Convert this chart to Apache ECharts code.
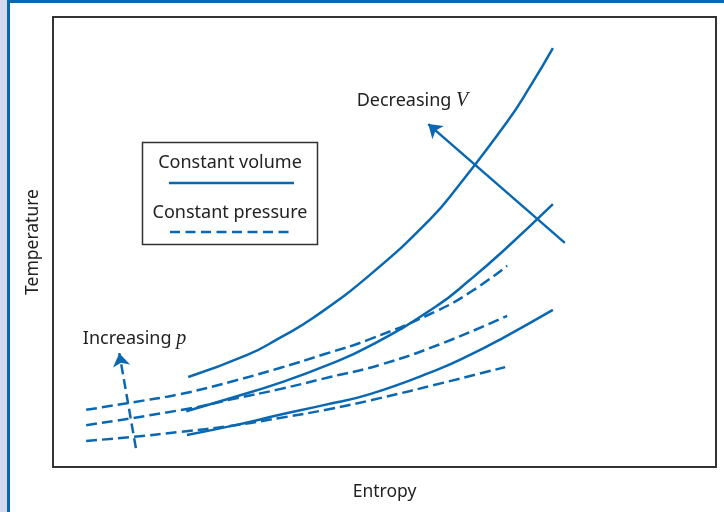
<!DOCTYPE html>
<html>
<head>
<meta charset="utf-8">
<script src="https://cdn.jsdelivr.net/npm/echarts@6/dist/echarts.min.js"></script>
<style>
html,body{margin:0;padding:0;background:#fff;}
#wrap{position:relative;width:724px;height:512px;background:#fff;}
#strip{position:absolute;left:0;top:0;width:7px;height:512px;background:#d4dbef;}
#vbar{position:absolute;left:7px;top:0;width:3px;height:512px;background:#0a68b2;}
#hbar{position:absolute;left:7px;top:0;width:717px;height:3px;background:#0a68b2;}
#chart{position:absolute;left:0;top:0;width:724px;height:512px;}
</style>
</head>
<body>
<div id="wrap">
<div id="strip"></div><div id="vbar"></div><div id="hbar"></div>
<div id="chart"></div>
</div>
<script>
// Entropy (x) / Temperature (y), arbitrary units 0..10
var volumeHigh = [[2.04,2.00],[2.93,2.49],[3.42,2.87],[3.92,3.31],[4.78,4.27],[5.69,5.51],[6.09,6.20],[6.85,7.67],[7.19,8.44],[7.54,9.31]];
var volumeMid = [[2.01,1.24],[2.75,1.56],[3.42,1.87],[4.10,2.24],[4.78,2.69],[5.79,3.58],[6.29,4.16],[6.79,4.80],[7.54,5.84]];
var volumeLow = [[2.02,0.71],[2.75,0.93],[3.42,1.16],[4.10,1.38],[4.78,1.62],[5.79,2.16],[6.29,2.49],[6.79,2.87],[7.54,3.49]];
var pressureHigh = [[0.50,1.27],[1.21,1.44],[1.92,1.62],[2.67,1.89],[3.42,2.20],[4.10,2.51],[4.78,2.84],[5.79,3.47],[6.32,3.91],[6.85,4.47]];
var pressureMid = [[0.50,0.93],[2.02,1.29],[2.71,1.51],[3.42,1.73],[4.18,2.00],[4.93,2.27],[5.84,2.73],[6.85,3.36]];
var pressureLow = [[0.50,0.58],[1.21,0.67],[1.92,0.78],[2.67,0.91],[3.42,1.09],[4.18,1.29],[4.93,1.53],[5.88,1.87],[6.82,2.22]];
var arrowV = [[7.72,4.98],[5.66,7.62]];
var arrowP = [[1.25,0.42],[1.00,2.53]];
var labelV = [4.58,8.13];
var labelP = [0.45,2.84];
var xName = 'Entropy';
var yName = 'Temperature';
var legendNames = ['Constant volume','Constant pressure'];

var BLUE = '#0a68b2';
var TXT = '#222222';
var FONT = 'Noto Sans';

var chart = echarts.init(document.getElementById('chart'), null, {renderer:'canvas'});

function curve(data, dashed){
  return {
    type:'line', data:data, smooth:0.5, symbol:'none', silent:true,
    lineStyle:{color:BLUE, width:2.5, type: dashed ? [11,5] : 'solid', cap:'butt'}
  };
}
function arrow(pts, dashed){
  return {
    type:'lines', coordinateSystem:'cartesian2d', silent:true,
    symbol:['none','arrow'], symbolSize:[9,13],
    lineStyle:{color:BLUE, width:2.5, type: dashed ? [10,5] : 'solid', opacity:1},
    data:[{coords:pts}]
  };
}

var option = {
  animation:false,
  backgroundColor:'transparent',
  grid:{left:53, top:17, width:663, height:450, show:true, borderColor:'#333', borderWidth:2, backgroundColor:'#fff'},
  xAxis:{type:'value', min:0, max:10, axisLine:{show:false}, axisTick:{show:false}, axisLabel:{show:false}, splitLine:{show:false},
    name:xName, nameLocation:'middle', nameGap:16, nameTextStyle:{color:TXT, fontFamily:FONT, fontSize:17.5}},
  yAxis:{type:'value', min:0, max:10, axisLine:{show:false}, axisTick:{show:false}, axisLabel:{show:false}, splitLine:{show:false},
    name:yName, nameLocation:'middle', nameGap:11, nameTextStyle:{color:TXT, fontFamily:FONT, fontSize:17.5}},
  series:[
    curve(volumeHigh,false), curve(volumeMid,false), curve(volumeLow,false),
    curve(pressureHigh,true), curve(pressureMid,true), curve(pressureLow,true),
    arrow(arrowV,false), arrow(arrowP,true)
  ]
};
chart.setOption(option);

var rich = {n:{fontFamily:FONT, fontSize:18, fill:TXT}, i:{fontFamily:'Liberation Serif', fontStyle:'italic', fontSize:20, fill:TXT}};
var pV = chart.convertToPixel({gridIndex:0}, labelV);
var pP = chart.convertToPixel({gridIndex:0}, labelP);
chart.setOption({
  graphic:[
    {type:'rect', shape:{x:142.5,y:142.5,width:175,height:102}, style:{fill:'#fff', stroke:'#333', lineWidth:1.5}, silent:true},
    {type:'text', x:230, y:163, style:{text:legendNames[0], fill:TXT, font:'18px "'+FONT+'"', textAlign:'center', textVerticalAlign:'middle'}, silent:true},
    {type:'line', shape:{x1:169,y1:183,x2:294,y2:183}, style:{stroke:BLUE, lineWidth:2.5}, silent:true},
    {type:'text', x:230, y:213, style:{text:legendNames[1], fill:TXT, font:'18px "'+FONT+'"', textAlign:'center', textVerticalAlign:'middle'}, silent:true},
    {type:'line', shape:{x1:170,y1:232,x2:292,y2:232}, style:{stroke:BLUE, lineWidth:2.5, lineDash:[10,5.5]}, silent:true},
    {type:'text', x:pV[0], y:pV[1], style:{text:'{n|Decreasing }{i|V}', rich:rich, fill:TXT, font:'18px "'+FONT+'"', textAlign:'left', textVerticalAlign:'middle'}, silent:true},
    {type:'text', x:pP[0], y:pP[1], style:{text:'{n|Increasing }{i|p}', rich:rich, fill:TXT, font:'18px "'+FONT+'"', textAlign:'left', textVerticalAlign:'middle'}, silent:true}
  ]
});
</script>
</body>
</html>
